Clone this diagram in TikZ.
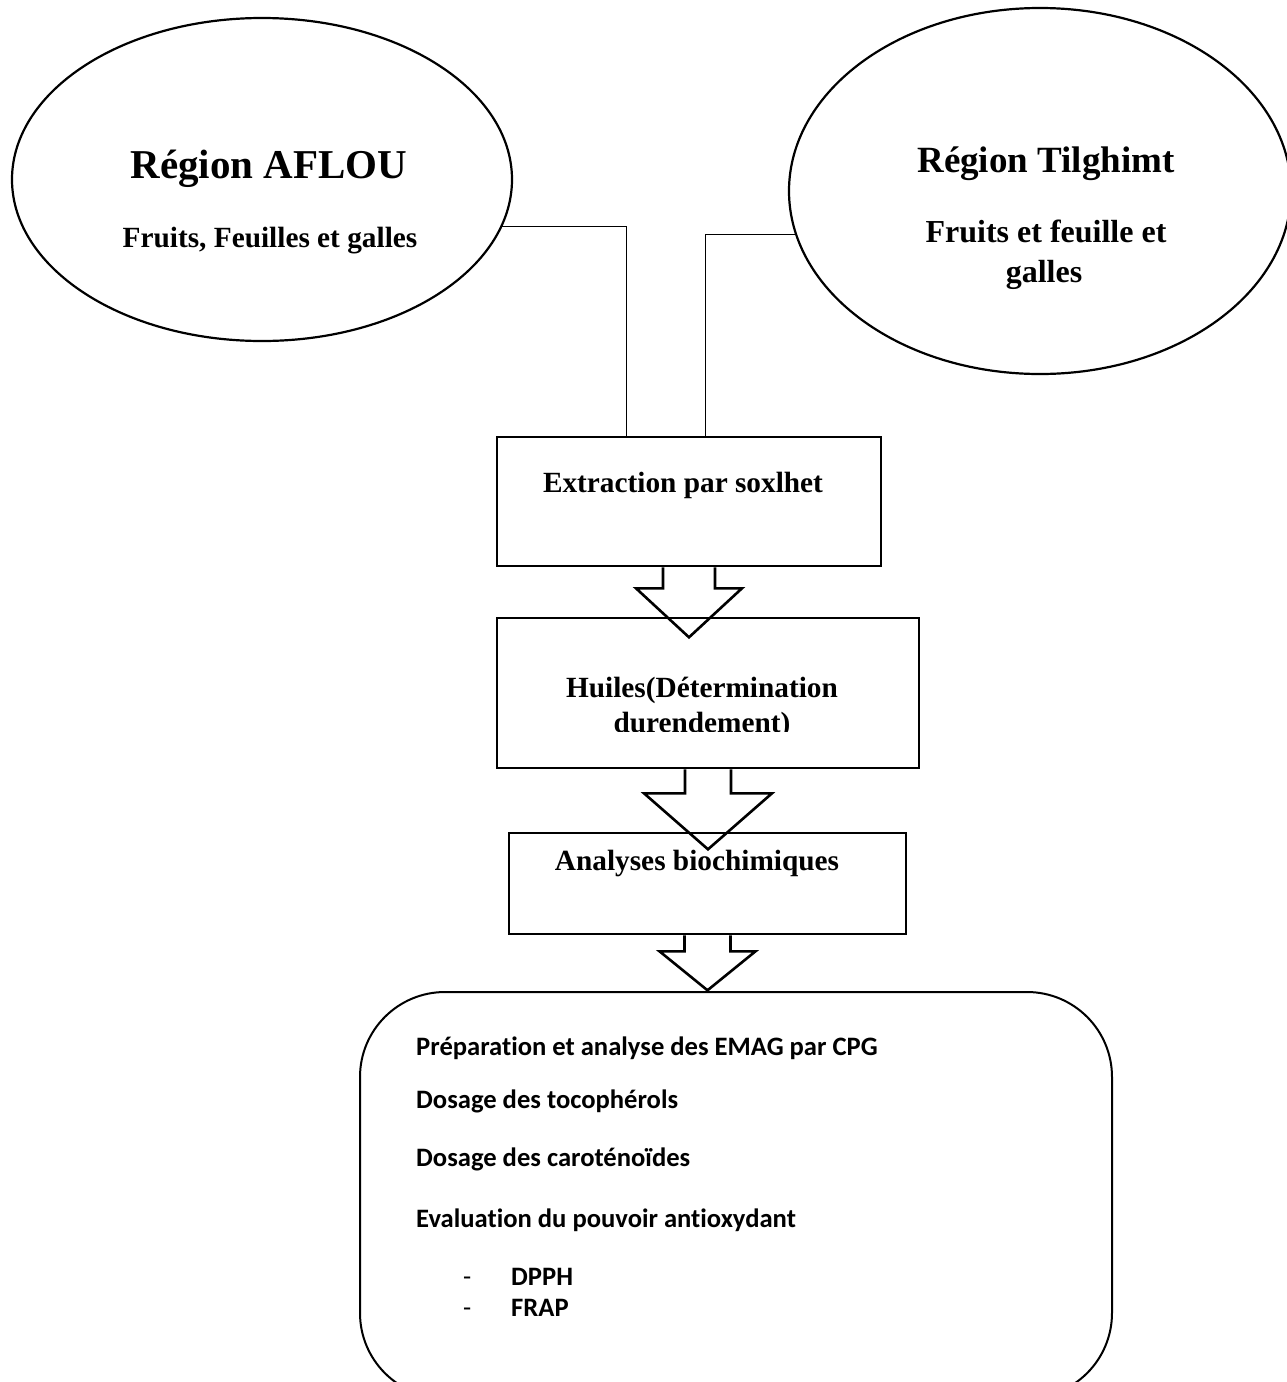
\documentclass[tikz,border=0pt]{standalone}
\usepackage{fontspec}
\setmainfont{Liberation Serif}
\newfontfamily\carl[Ligatures=NoCommon]{Carlito}
\usetikzlibrary{shapes.geometric,calc}
\begin{document}
\begin{tikzpicture}[x=1pt,y=-1pt,
  ell/.style={draw, line width=2.2pt, ellipse, inner sep=0pt},
  boxst/.style={draw, line width=2.6pt, rectangle, inner sep=0pt},
  conn/.style={draw, line width=1.2pt},
  barrow/.style={draw, line width=2.6pt, fill=white, line join=miter},
  ttl/.style={anchor=base, inner sep=0pt},
  big/.style={font=\bfseries\fontsize{41}{48}\selectfont},
  mid/.style={font=\bfseries\fontsize{29.3}{35}\selectfont},
  lst/.style={anchor=base west, inner sep=0pt, font=\carl\bfseries\fontsize{26.6}{32}\selectfont},
  dsh/.style={anchor=base west, inner sep=0pt, font=\carl\fontsize{26.6}{32}\selectfont}]
\fill[white] (0,0) rectangle (1286,1382);
\useasboundingbox (0,0) rectangle (1286,1382);

% ellipses
\node[ell, minimum width=500pt, minimum height=323pt] (ellL) at (262,179.5) {};
\node[ell, minimum width=502pt, minimum height=366pt] (ellR) at (1040,191) {};
\node[ttl, big] (tL) at (269,178) {Région AFLOU};
\node[ttl, mid] (sL) at (270,247) {Fruits, Feuilles et galles};
\node[ttl, font=\bfseries\fontsize{37}{44}\selectfont] (tR) at (1046,172) {Région Tilghimt};
\node[ttl, font=\bfseries\fontsize{32}{38}\selectfont] (sR1) at (1046,242) {Fruits et feuille et};
\node[ttl, font=\bfseries\fontsize{32}{38}\selectfont] (sR2) at (1044,282) {galles};

% box 1
\node[boxst, minimum width=384pt, minimum height=129pt] (box1) at (689,501.5) {};
\node[ttl, mid] (t1) at (683,492) {Extraction par soxlhet};

% connectors
\coordinate (jL) at ($(box1.north west)+(131,0)$);
\coordinate (jR) at ($(box1.north west)+(210,0)$);
\draw[conn] (ellL.-11.5) -| (jL);
\draw[conn] (ellR.190) -| (jR);

% arrow 1
\draw[barrow] ($(box1.south)+(-26,0)$) -- ($(box1.south)+(-26,21)$) -- ($(box1.south)+(-53,21)$) -- ($(box1.south)+(0,70)$) -- ($(box1.south)+(53,21)$) -- ($(box1.south)+(26,21)$) -- ($(box1.south)+(26,0)$);

% box 2
\node[boxst, minimum width=422pt, minimum height=150pt] (box2) at (708,693) {};
\node[ttl, mid] (t2a) at (702,697) {Huiles(Détermination};
\begin{scope}
\clip (497,618) rectangle (919,731);
\node[ttl, mid] (t2b) at (702,732) {durendement)};
\end{scope}

% arrow 2
\draw[barrow] ($(box2.south)+(-23,0)$) -- ($(box2.south)+(-23,24)$) -- ($(box2.south)+(-64,24)$) -- ($(box2.south)+(0,80)$) -- ($(box2.south)+(64,24)$) -- ($(box2.south)+(23,24)$) -- ($(box2.south)+(23,0)$);

% box 3
\node[boxst, minimum width=397pt, minimum height=101pt] (box3) at (707.5,883.5) {};
\node[ttl, mid] (t3) at (697,870) {Analyses biochimiques};

% arrow 3
\draw[barrow] ($(box3.south)+(-23,0)$) -- ($(box3.south)+(-23,16)$) -- ($(box3.south)+(-48,16)$) -- ($(box3.south)+(0,55)$) -- ($(box3.south)+(48,16)$) -- ($(box3.south)+(23,16)$) -- ($(box3.south)+(23,0)$);

% bottom box
\node[draw, line width=2pt, rounded corners=85pt, minimum width=752pt, minimum height=406pt, inner sep=0pt] (box4) at (736,1195) {};
\node[lst] (l1) at (416,1055) {Préparation et analyse des EMAG par CPG};
\node[lst] (l2) at (416,1108) {Dosage des tocophérols};
\node[lst] (l3) at (416,1166) {Dosage des caroténoïdes};
\node[lst] (l4) at (416,1227) {Evaluation du pouvoir antioxydant};
\node[dsh] (d1) at (463,1285) {-};
\node[lst] (l5) at (511,1285) {DPPH};
\node[dsh] (d2) at (463,1316) {-};
\node[lst] (l6) at (511,1316) {FRAP};
\end{tikzpicture}
\end{document}
